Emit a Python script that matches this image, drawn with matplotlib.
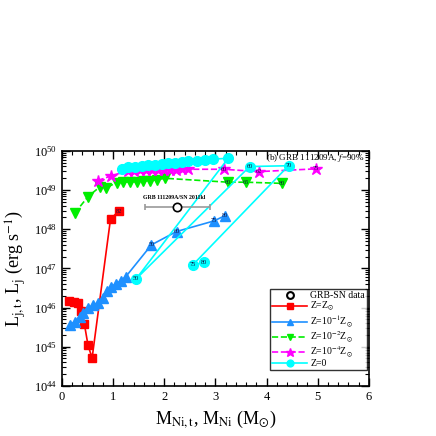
import matplotlib
matplotlib.use("Agg")
import matplotlib.pyplot as plt
from matplotlib.ticker import MultipleLocator, LogLocator, NullFormatter

plt.rcParams['font.family'] = ['Liberation Serif', 'DejaVu Serif']
plt.rcParams['mathtext.fontset'] = 'stix'

# Z = Zsun
red_m = [0.14, 0.23, 0.31, 0.37, 0.44, 0.51, 0.59, 0.95, 1.11]
red_L = [46.17, 46.15, 46.11, 45.92, 45.57, 45.04, 44.71, 48.26, 48.46]
red_lab = {8: "82"}

# Z = 0.1 Zsun
blue_m = [0.16, 0.25, 0.35, 0.42, 0.51, 0.61, 0.71, 0.81, 0.89, 0.96, 1.05,
          1.15, 1.25, 1.75, 2.24, 2.97, 3.18]
blue_L = [45.56, 45.64, 45.77, 45.85, 45.98, 46.07, 46.12, 46.24, 46.41, 46.53,
          46.60, 46.68, 46.79, 47.60, 47.94, 48.21, 48.34]
blue_lab = {13: "50", 14: "60", 15: "75", 16: "80"}

# Z = 0.01 Zsun
green_m = [0.25, 0.51, 0.74, 0.87, 1.07, 1.20, 1.33, 1.46, 1.59, 1.72, 1.85,
           2.01, 3.25, 3.59, 4.30]
green_L = [48.41, 48.83, 49.08, 49.06, 49.19, 49.20, 49.21, 49.21, 49.23, 49.24,
           49.26, 49.30, 49.20, 49.20, 49.17]
green_lab = {12: "60", 13: "65", 14: "80"}

# Z = 1e-4 Zsun
mag_m = [0.70, 0.96, 1.29, 1.41, 1.52, 1.64, 1.76, 1.88, 1.99, 2.11, 2.23,
         2.34, 2.46, 3.16, 3.85, 4.96]
mag_L = [49.24, 49.36, 49.49, 49.48, 49.50, 49.50, 49.51, 49.50, 49.51, 49.52,
         49.52, 49.53, 49.53, 49.53, 49.47, 49.54]
mag_lab = {13: "60", 14: "62", 15: "75"}

# Z = 0
cyan_m = [1.17, 1.30, 1.43, 1.56, 1.69, 1.82, 1.95, 2.08, 2.21, 2.34, 2.47,
          2.64, 2.80, 2.96, 3.25, 1.45, 3.67, 4.43, 2.56, 2.78]
cyan_L = [49.54, 49.58, 49.60, 49.61, 49.63, 49.65, 49.67, 49.69, 49.70, 49.72,
          49.74, 49.75, 49.77, 49.79, 49.81, 46.73, 49.60, 49.62, 47.09, 47.15]
cyan_lab = {15: "50", 16: "60", 17: "70", 18: "75", 19: "80"}

# GRB 111209A / SN 2011kl
obs_m = 2.25
obs_L = 48.57
obs_lo = 1.62
obs_hi = 2.89

fig = plt.figure(figsize=(4.36, 4.36), dpi=100)
ax = fig.add_axes([0.142, 0.115, 0.704, 0.539])

def pw(v):
    return [10 ** x for x in v]

obs = ax.errorbar([obs_m], [10 ** obs_L], xerr=[[obs_m - obs_lo], [obs_hi - obs_m]],
                  fmt='o', mfc='white', mec='black', mew=1.2, ms=6, ecolor='#999999',
                  elinewidth=1.2, capsize=2, zorder=3)
ax.text(obs_m - 0.05, 10 ** (obs_L + 0.17), 'GRB 111209A/SN 2011kl', fontsize=4.2,
        fontweight='bold', ha='center', va='bottom')

series = [
    (red_m, red_L, red_lab, '#ff0000', 's', 6, '-', r'Z=Z$_{\odot}$'),
    (blue_m, blue_L, blue_lab, '#1e90ff', '^', 7, '-', r'Z=10$^{-1}$Z$_{\odot}$'),
    (green_m, green_L, green_lab, '#00ee00', 'v', 7, '--', r'Z=10$^{-2}$Z$_{\odot}$'),
    (mag_m, mag_L, mag_lab, '#ff00ff', '*', 9, '--', r'Z=10$^{-4}$Z$_{\odot}$'),
    (cyan_m, cyan_L, cyan_lab, '#00ffff', 'o', 7, '-', 'Z=0'),
]

handles = []
labels = []
h0, = ax.plot([], [], 'o', mfc='white', mec='black', mew=1.5, ms=7)
handles.append(h0)
labels.append('GRB-SN data')
for m, L, lab, c, mk, ms, ls, name in series:
    h, = ax.plot(m, pw(L), color=c, marker=mk, ms=ms, ls=ls, lw=1.2, mec=c, zorder=2)
    handles.append(h)
    labels.append(name)
    for i, t in lab.items():
        ax.text(m[i], 10 ** L[i], t, fontsize=4.5, color='#101040',
                ha='center', va='center', zorder=4)

ax.set_xlim(0, 6)
ax.set_yscale('log')
ax.set_ylim(1e44, 1e50)
ax.xaxis.set_major_locator(MultipleLocator(1))
ax.xaxis.set_minor_locator(MultipleLocator(0.2))
ax.yaxis.set_major_locator(LogLocator(base=10, numticks=10))
ax.yaxis.set_minor_locator(LogLocator(base=10, subs=range(2, 10), numticks=20))
ax.yaxis.set_minor_formatter(NullFormatter())
ax.tick_params(which='both', direction='in', top=True, right=True, labelsize=9)
ax.tick_params(which='major', length=6, width=1)
ax.tick_params(which='minor', length=3, width=0.8)
for s in ax.spines.values():
    s.set_linewidth(1.2)

ax.set_xlabel(r'M$_{\rm Ni,t}$, M$_{\rm Ni}$ (M$_{\odot}$)', fontsize=13)
ax.set_ylabel(r'L$_{\rm j,t}$, L$_{\rm j}$ (erg s$^{-1}$)', fontsize=13)

ax.text(0.985, 0.996, r'(b) GRB 111209A, $f$=90%', transform=ax.transAxes,
        fontsize=6.6, ha='right', va='top')

leg = ax.legend(handles, labels, loc='lower right', fontsize=7, frameon=True,
                fancybox=False, edgecolor='black', handlelength=3.6,
                handleheight=0.5, labelspacing=0.0, borderpad=0.2,
                handletextpad=0.3, markerscale=0.7, borderaxespad=0,
                bbox_to_anchor=(0.993, 0.068))
leg.get_frame().set_linewidth(1.0)

fig.savefig('out.png', dpi=100)
